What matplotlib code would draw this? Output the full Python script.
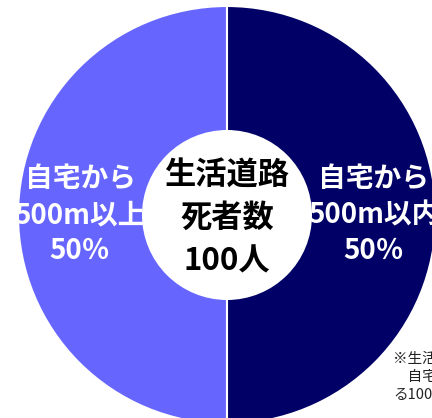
import matplotlib
matplotlib.use("Agg")
import matplotlib.pyplot as plt
from matplotlib.patches import Circle

plt.rcParams['font.family'] = ['Noto Sans CJK JP', 'DejaVu Sans']

# Share of residential-road fatalities by distance from home
categories = ["自宅から\n500m以上", "自宅から\n500m以内"]
shares = [50, 50]
colors = ["#6666FF", "#000066"]
center_label = "生活道路\n死者数\n100人"
footnote = "※生活道路における死者数\n　自宅からの距離別\nる100人あたり"

W, H = 432, 418
fig = plt.figure(figsize=(W / 100, H / 100), dpi=100)
ax = fig.add_axes([0, 0, 1, 1])

cx, cy = 227, H - 215
R = 209
r_hole = 85

labels = [f"{c}\n{v}％" for c, v in zip(categories, shares)]
wedges, texts = ax.pie(
    shares, colors=colors, startangle=90, counterclock=True,
    center=(cx, cy), radius=R, labels=labels,
    labeldistance=(R + r_hole) / 2 / R,
    wedgeprops=dict(edgecolor='white', linewidth=1.5),
    textprops=dict(color='white', fontsize=20, fontweight='bold',
                   ha='center', va='center', multialignment='center',
                   linespacing=1.38),
    frame=True,
)
ax.set_xlim(0, W)
ax.set_ylim(0, H)
ax.set_aspect('equal')
ax.axis('off')

ax.add_patch(Circle((cx, cy), r_hole, facecolor='white', edgecolor='none', zorder=3))
ax.text(cx, cy - 3, center_label, ha='center', va='center', multialignment='center',
        fontsize=22.5, fontweight='bold', color='black', linespacing=1.45, zorder=4)

ax.text(393, H - 352, footnote, ha='left', va='top', fontsize=10.5,
        color='#222222', linespacing=1.35, zorder=5, clip_on=False)

fig.savefig("out.png", dpi=100)
